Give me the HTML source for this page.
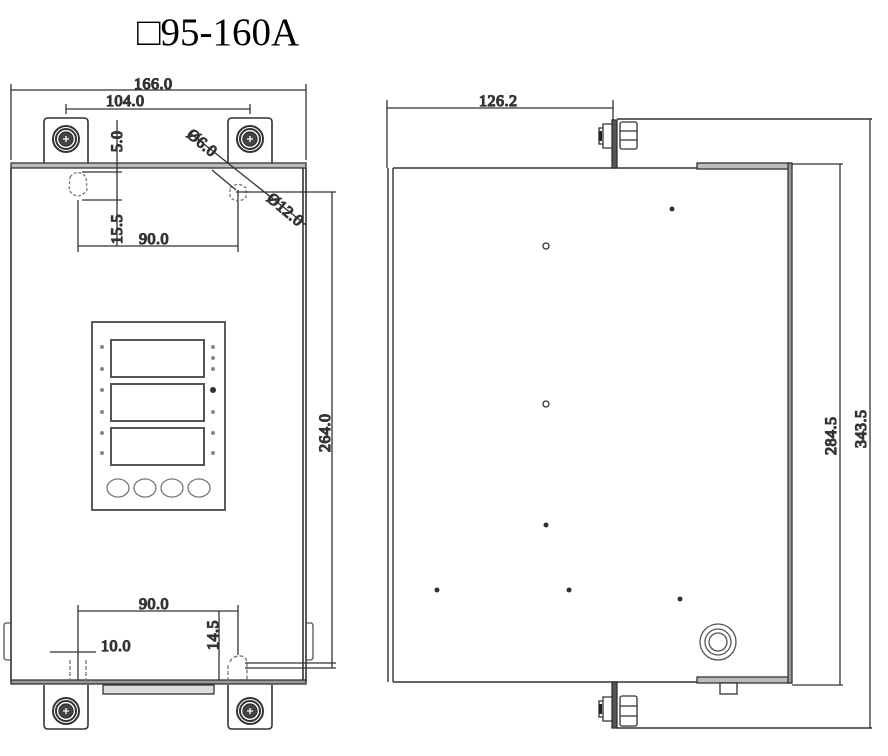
<!DOCTYPE html>
<html><head><meta charset="utf-8"><style>
html,body{margin:0;padding:0;background:#fff}
svg{display:block}
.d{font-family:"Liberation Serif",serif;font-size:16px;fill:#222;letter-spacing:0.5px}
</style></head><body>
<svg width="888" height="756" viewBox="0 0 888 756" xmlns="http://www.w3.org/2000/svg" fill="none" stroke="#333" stroke-width="1.3">
<text x="137" y="45" font-family="'Liberation Serif',serif" font-size="39" fill="#000" stroke="none">□95-160A</text>

<!-- LEFT VIEW -->
<path d="M44 163 V122 Q44 118 48 118 H84 Q88 118 88 122 V163" stroke-width="1.6"/>
<path d="M228 163 V122 Q228 118 232 118 H268 Q272 118 272 122 V163" stroke-width="1.6"/>
<g stroke="#333">
<circle cx="66" cy="139" r="13" stroke-width="2"/><circle cx="66" cy="139" r="10" stroke-width="2"/><circle cx="66" cy="139" r="7" fill="#444"/>
<circle cx="250" cy="139" r="13" stroke-width="2"/><circle cx="250" cy="139" r="10" stroke-width="2"/><circle cx="250" cy="139" r="7" fill="#444"/>
<circle cx="66" cy="711" r="13" stroke-width="2"/><circle cx="66" cy="711" r="10" stroke-width="2"/><circle cx="66" cy="711" r="7" fill="#444"/>
<circle cx="250" cy="711" r="13" stroke-width="2"/><circle cx="250" cy="711" r="10" stroke-width="2"/><circle cx="250" cy="711" r="7" fill="#444"/>
</g>
<path d="M63 139h6M66 136v6M247 139h6M250 136v6M63 711h6M66 708v6M247 711h6M250 708v6" stroke="#fff"/>
<path d="M44 685 V725 Q44 729 48 729 H84 Q88 729 88 725 V685" stroke-width="1.6"/>
<path d="M228 685 V725 Q228 729 232 729 H268 Q272 729 272 725 V685" stroke-width="1.6"/>
<rect x="103" y="685" width="111" height="9" fill="#ddd"/>
<rect x="11" y="163" width="295" height="5" fill="#bbb"/>
<path d="M11 168 V682 M306 168 V682 M303 168 V682" stroke-width="1.6"/>
<rect x="11" y="680" width="295" height="4" fill="#999"/>
<path d="M11 623 H6 Q4 623 4 627 V657 Q4 660 7 660 H11 M306 623 H311 Q313 623 313 627 V657 Q313 660 310 660 H306" stroke="#555"/>
<path d="M11 90 H306 M11 84 V160 M306 84 V160" />
<path d="M66 109 H250 M66 104 V114 M250 104 V114"/>
<path d="M117 120 V246 M82 172 H122 M82 200 H122 M78 200 V252 M238 190 V252 M78 246 H238"/>
<path d="M70 177 Q78 168 86 177 L87 190 Q78 202 69 190 Z" stroke="#777" stroke-dasharray="3 2"/>
<path d="M230 188 Q238 181 246 188 L246 197 Q238 205 230 197 Z" stroke="#777" stroke-dasharray="3 2"/>
<path d="M190 133 L306 225 M212 170 L236 190 M236 192 H336 M332 192 V668 M245 668 H336"/>
<text class="d" transform="translate(186,136) rotate(40)">Ø6.0</text>
<text class="d" transform="translate(266,200) rotate(40)">Ø12.0</text>
<text class="d" x="134" y="89">166.0</text>
<text class="d" x="106" y="106">104.0</text>
<text class="d" transform="translate(122,152) rotate(-90)">5.0</text>
<text class="d" transform="translate(122,244) rotate(-90)">15.5</text>
<text class="d" x="139" y="244">90.0</text>
<text class="d" transform="translate(330,452) rotate(-90)">264.0</text>
<rect x="92" y="322" width="133" height="188" stroke-width="1.6"/>
<rect x="111" y="340" width="93" height="37" stroke="#555" stroke-width="2"/>
<rect x="111" y="384" width="93" height="37" stroke="#555" stroke-width="2"/>
<rect x="111" y="428" width="93" height="37" stroke="#555" stroke-width="2"/>
<g stroke="#777"><ellipse cx="118" cy="488" rx="11" ry="9"/><ellipse cx="145" cy="488" rx="11" ry="9"/><ellipse cx="172" cy="488" rx="11" ry="9"/><ellipse cx="199" cy="488" rx="11" ry="9"/></g>
<g fill="#888" stroke="none">
<circle cx="102" cy="347" r="2"/><circle cx="102" cy="369" r="2"/><circle cx="102" cy="390" r="2"/><circle cx="102" cy="412" r="2"/><circle cx="102" cy="433" r="2"/><circle cx="102" cy="453" r="2"/>
<circle cx="213" cy="347" r="2"/><circle cx="213" cy="358" r="2"/><circle cx="213" cy="369" r="2"/><circle cx="213" cy="390" r="3" fill="#333"/><circle cx="213" cy="412" r="2"/><circle cx="213" cy="433" r="2"/><circle cx="213" cy="453" r="2"/>
</g>
<path d="M78 605 V680 M238 605 V655 M78 611 H238 M50 652 H96 M219 611 V680"/>
<path d="M70 660 V682 M86 660 V682 M230 662 Q232 656 240 656 Q247 656 247 664 V682 M228 665 V682" stroke="#777" stroke-dasharray="4 2"/>
<path d="M245 663 H336"/>
<text class="d" x="139" y="609">90.0</text>
<text class="d" x="101" y="651">10.0</text>
<text class="d" transform="translate(218,650) rotate(-90)">14.5</text>

<!-- RIGHT VIEW -->
<path d="M387 100 V168 M387 108 H613 M613 100 V120"/>
<text class="d" x="479" y="106">126.2</text>
<path d="M388 168 V682 M393 168 V682" stroke-width="1.4"/>
<path d="M393 168 H697 M393 682 H697" stroke-width="1.6"/>
<rect x="612" y="120" width="5" height="48" fill="#555"/>
<rect x="612" y="682" width="5" height="46" fill="#555"/>
<path d="M603 124 h9 v24 h-9 z M599 128 h4 v16 h-4 z" fill="#fff"/>
<rect x="599" y="131" width="3" height="10" fill="#222" stroke="none"/>
<rect x="620" y="122" width="17" height="27" rx="2"/><path d="M620 131 H637 M620 140 H637"/>
<path d="M603 697 h9 v24 h-9 z M599 701 h4 v16 h-4 z" fill="#fff"/>
<rect x="599" y="704" width="3" height="10" fill="#222" stroke="none"/>
<rect x="620" y="696" width="17" height="30" rx="2"/><path d="M620 706 H637 M620 716 H637"/>
<path d="M617 119 H872 M617 728 H872" stroke-width="1.4"/>
<rect x="697" y="163" width="92" height="6" fill="#bbb"/>
<rect x="697" y="677" width="92" height="6" fill="#bbb"/>
<rect x="788" y="163" width="4" height="520" fill="#999"/>
<path d="M792 164 H843 M792 685 H843 M840 164 V685 M870 119 V728" />
<rect x="720" y="683" width="17" height="11" fill="#fff"/>
<text class="d" transform="translate(836,455) rotate(-90)">284.5</text>
<text class="d" transform="translate(866,448) rotate(-90)">343.5</text>
<g fill="#333" stroke="none">
<circle cx="672" cy="209" r="2.5"/><circle cx="546" cy="525" r="2.5"/><circle cx="437" cy="590" r="2.5"/><circle cx="569" cy="590" r="2.5"/><circle cx="680" cy="599" r="2.5"/>
</g>
<circle cx="546" cy="246" r="3"/><circle cx="546" cy="404" r="3"/>
<g stroke="#555"><circle cx="718" cy="642" r="18"/><circle cx="718" cy="642" r="13"/><circle cx="718" cy="642" r="9"/></g>
</svg>
</body></html>
